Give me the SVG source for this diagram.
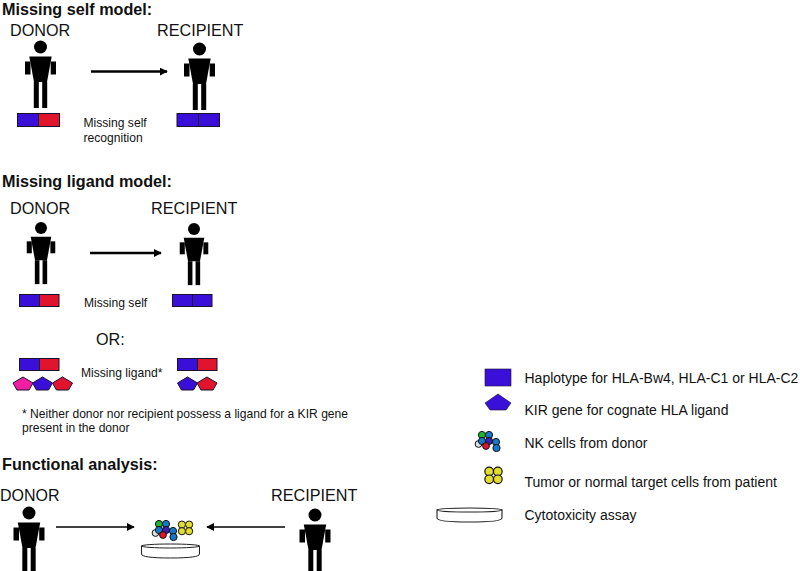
<svg xmlns="http://www.w3.org/2000/svg" width="800" height="571" viewBox="0 0 800 571">
<style>
text{font-family:"Liberation Sans",Arial,sans-serif;fill:#111}
.h{font-size:16.2px;font-weight:bold}
.r{font-size:16.200px}
.s{font-size:12.100px}
.l{font-size:14px}
.o{stroke:#1a1030;stroke-width:1}
.b{fill:#3a10d8}
.d{fill:#e0142c}
.m{fill:#f01ea0}
.c{stroke:#111;stroke-width:1}
.dish{fill:#fff;stroke:#222;stroke-width:1}
.wire{stroke:#000;fill:none}
</style>
<defs>
<g id="person">
<circle cx="0" cy="0" r="6.500"/>
<polygon points="-11.200,9.500 11.200,9.500 6.500,35 -6.500,35"/>
<rect x="-15.500" y="14.500" width="5.500" height="13"/>
<rect x="10.200" y="14.500" width="5.300" height="13"/>
<rect x="-6.700" y="35" width="5" height="26"/>
<rect x="1.700" y="35" width="5" height="26"/>
</g>
<polygon id="penta" points="0,-7 10,-1 6,6 -6,6 -10,-1"/>
<g id="nk">
<circle class="c" cx="-9" cy="-9" r="3.600" fill="#1fb52e"/>
<circle class="c" cx="-2" cy="-9" r="3.600" fill="#1878c8"/>
<circle class="c" cx="-12.500" cy="0" r="3.400" fill="#d8e4e4"/>
<circle class="c" cx="-9" cy="-3" r="3.600" fill="#1878c8"/>
<circle class="c" cx="-2" cy="-3" r="3.600" fill="#3a20b0"/>
<circle class="c" cx="-5" cy="2" r="3.400" fill="#e0142c"/>
<circle class="c" cx="5" cy="-2" r="3.600" fill="#1878c8"/>
<circle class="c" cx="5.500" cy="4" r="3.600" fill="#1878c8"/>
</g>
<g id="tumor">
<circle class="c" cx="-3.600" cy="-3.400" r="3.600" fill="#e4dc30"/>
<circle class="c" cx="3.600" cy="-3.400" r="3.600" fill="#e4dc30"/>
<circle class="c" cx="-3.600" cy="3.200" r="3.600" fill="#e4dc30"/>
<circle class="c" cx="3.600" cy="3.200" r="3.600" fill="#e4dc30"/>
</g>
<g id="dish">
<path class="dish" d="M-29,-4 V4 Q-29,8 0,8 Q29,8 29,4 V-4 Z"/>
<ellipse class="dish" cx="0" cy="-4" rx="29" ry="2"/>
</g>
<marker id="tip" viewBox="0 0 10 10" refX="9" refY="5" markerWidth="8" markerHeight="8" markerUnits="userSpaceOnUse" orient="auto"><path d="M0,0 L10,5 L0,10 Z" fill="#000"/></marker>
</defs>

<text class="h" x="2" y="15">Missing self model:</text>
<text class="r" x="10" y="36">DONOR</text>
<text class="r" x="157" y="36">RECIPIENT</text>
<g id="donor-a"><use href="#person" x="40.500" y="47"/></g>
<g id="recipient-a"><use href="#person" x="199.500" y="49"/></g>
<g id="haplo-donor-a"><rect class="o b" x="17.500" y="113.500" width="21" height="13"/><rect class="o d" x="38.500" y="113.500" width="21" height="13"/></g>
<g id="haplo-recipient-a"><rect class="o b" x="177" y="113.500" width="21.500" height="13"/><rect class="o b" x="198.500" y="113.500" width="21" height="13"/></g>
<text class="s" x="83.500" y="127">Missing self</text>
<text class="s" x="83.500" y="142">recognition</text>

<text class="h" x="2" y="187">Missing ligand model:</text>
<text class="r" x="10" y="214">DONOR</text>
<text class="r" x="151" y="214">RECIPIENT</text>
<g id="donor-b"><use href="#person" transform="translate(41 228) scale(.92)"/></g>
<g id="recipient-b"><use href="#person" transform="translate(194 229) scale(.92)"/></g>
<g id="haplo-donor-b"><rect class="o b" x="19.500" y="294.500" width="20" height="12"/><rect class="o d" x="39.500" y="294.500" width="19.500" height="12"/></g>
<g id="haplo-recipient-b"><rect class="o b" x="172.500" y="294.500" width="20" height="12"/><rect class="o b" x="192.500" y="294.500" width="19.500" height="12"/></g>
<text class="s" x="84" y="307">Missing self</text>
<text class="r" x="96" y="345">OR:</text>
<g id="haplo-donor-c"><rect class="o b" x="19.500" y="358.500" width="20" height="12"/><rect class="o d" x="39.500" y="358.500" width="19.500" height="12"/></g>
<g id="ligands-donor">
<use href="#penta" class="o m" x="23" y="384"/>
<use href="#penta" class="o b" x="42.500" y="384"/>
<use href="#penta" class="o d" x="62.500" y="384"/>
</g>
<text class="s" x="81" y="377">Missing ligand*</text>
<g id="haplo-recipient-c"><rect class="o b" x="177.500" y="358.500" width="20" height="12"/><rect class="o d" x="197.500" y="358.500" width="19.500" height="12"/></g>
<g id="ligands-recipient">
<use href="#penta" class="o b" x="187.500" y="384"/>
<use href="#penta" class="o d" x="207" y="384"/>
</g>
<text class="s" x="22" y="418">* Neither donor nor recipient possess a ligand for a KIR gene</text>
<text class="s" x="22" y="432">present in the donor</text>

<text class="h" x="2" y="470">Functional analysis:</text>
<text class="r" x="0" y="501" style="font-size:16px">DONOR</text>
<text class="r" x="271" y="501">RECIPIENT</text>
<g id="donor-d"><use href="#person" x="29" y="513"/></g>
<g id="recipient-d"><use href="#person" x="315" y="515"/></g>
<g id="assay">
<use href="#dish" x="170.500" y="550"/>
<use href="#nk" x="168" y="533"/>
<use href="#tumor" x="185.500" y="528"/>
</g>

<g id="connectors">
<path class="wire" stroke-width="2.500" d="M91,71.500 H167" marker-end="url(#tip)"/>
<path class="wire" stroke-width="2.500" d="M90,253 H161" marker-end="url(#tip)"/>
<path class="wire" stroke-width="1.300" d="M56,527 H134" marker-end="url(#tip)"/>
<path class="wire" stroke-width="1.300" d="M285,527 H207" marker-end="url(#tip)"/>
</g>

<g id="legend">
<rect x="485" y="369" width="26" height="17" fill="#3a10d8" stroke="#1a1030" stroke-width=".6"/>
<polygon points="498,394 511,403 506,410 490,410 485,403" fill="#3a10d8" stroke="#1a1030" stroke-width=".6"/>
<use href="#nk" x="491" y="444"/>
<use href="#tumor" transform="translate(493.500 475.500) scale(1.200)"/>
<use href="#dish" transform="translate(469.500 514) scale(1.120 1)"/>
<text class="l" x="524.500" y="383">Haplotype for HLA-Bw4, HLA-C1 or HLA-C2</text>
<text class="l" x="524.500" y="415">KIR gene for cognate HLA ligand</text>
<text class="l" x="524.500" y="448">NK cells from donor</text>
<text class="l" x="524.500" y="487">Tumor or normal target cells from patient</text>
<text class="l" x="524.500" y="520">Cytotoxicity assay</text>
</g>
</svg>
